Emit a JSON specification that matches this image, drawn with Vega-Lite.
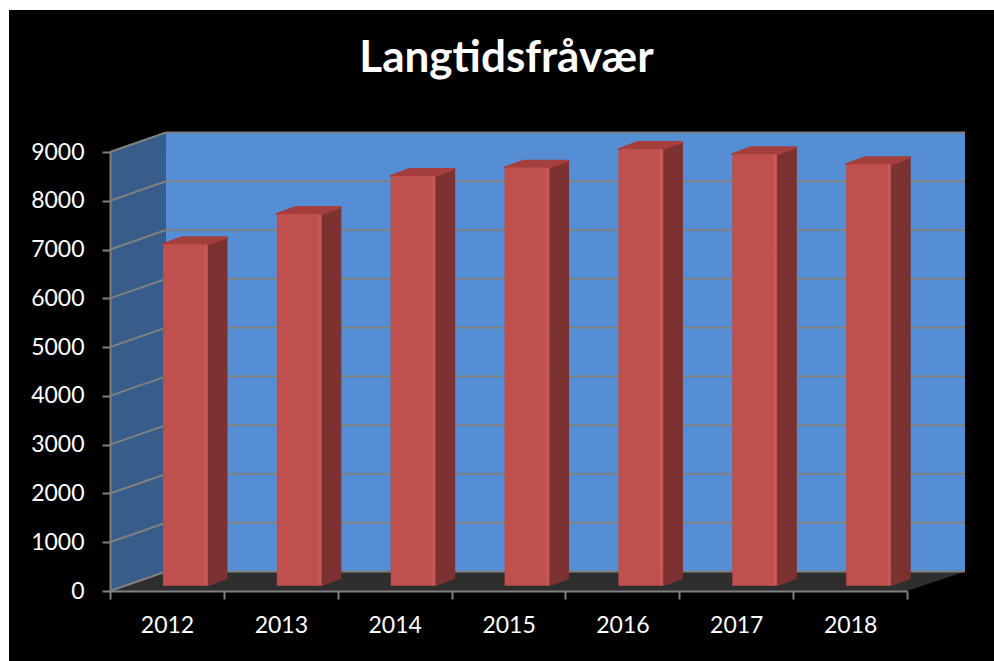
{
"$schema":"https://vega.github.io/schema/vega-lite/v6.json",
"width":797,"height":439,"autosize":"none",
"padding":{"left":110,"top":152,"right":87,"bottom":70},
"background":"white",
"title":{"text":"Langtidsfråvær","font":"Lato","fontWeight":"bold","fontSize":44,"color":"white","anchor":"middle","offset":-71,"zindex":1,"dx":-2},
"datasets":{
"bars":[{"year":2012,"value":7000},{"year":2013,"value":7620},{"year":2014,"value":8400},{"year":2015,"value":8570},{"year":2016,"value":8950},{"year":2017,"value":8845},{"year":2018,"value":8640}],
"ticks":[{"tick":0},{"tick":1000},{"tick":2000},{"tick":3000},{"tick":4000},{"tick":5000},{"tick":6000},{"tick":7000},{"tick":8000},{"tick":9000}]
},
"encoding":{
"x":{"field":"px","type":"quantitative","scale":{"domain":[0,7],"nice":false,"zero":false},"axis":{"title":null,"values":[0,1,2,3,4,5,6,7],"grid":false,"zindex":1,"domainColor":"#808080","domainWidth":2,"tickColor":"#808080","tickWidth":2,"tickSize":8,"labelExpr":"datum.value<7?''+(datum.value+2012):''","labelOffset":57,"labelFont":"Lato","labelFontSize":23,"labelColor":"white","labelPadding":15,"labelFlush":false,"labelOverlap":false,"labelBound":false}},
"y":{"field":"py","type":"quantitative","stack":null,"scale":{"domain":[0,9000],"nice":false,"zero":false},"axis":{"title":null,"values":[0,1000,2000,3000,4000,5000,6000,7000,8000,9000],"grid":false,"zindex":1,"domainColor":"#808080","domainWidth":2,"tickColor":"#808080","tickWidth":2,"tickSize":8,"format":"d","labelFont":"Lato","labelFontSize":23,"labelColor":"white","labelPadding":18,"labelFlush":false,"labelOverlap":false,"labelBound":false}}
},
"layer":[
{"data":{"values":[{"part":"background"}]},"transform":[{"calculate":"-0.887","as":"px"},{"calculate":"8","as":"px2"},{"calculate":"-1500","as":"py"},{"calculate":"11911","as":"py2"}],"mark":{"type":"rect","fill":"black"},"encoding":{"x2":{"field":"px2"},"y2":{"field":"py2"}}},
{"data":{"values":[{"part":"wall"}]},"transform":[{"calculate":"0.4918","as":"px"},{"calculate":"7.509","as":"px2"},{"calculate":"400","as":"py"},{"calculate":"9400","as":"py2"}],"mark":{"type":"rect","fill":"#558ed5"},"encoding":{"x2":{"field":"px2"},"y2":{"field":"py2"}}},
{"data":{"values":[{"part":"side"}]},"transform":[{"calculate":"[0,1]","as":"d"},{"flatten":["d"]},{"calculate":"datum.d*0.4918","as":"px"},{"calculate":"datum.d*400","as":"py"},{"calculate":"9000+datum.d*400","as":"py2"}],"mark":{"type":"area","fill":"#385d8a"},"encoding":{"y2":{"field":"py2"}}},
{"data":{"values":[{"part":"floor"}]},"transform":[{"calculate":"[0,1,2,3]","as":"d"},{"flatten":["d"]},{"calculate":"[0,0.4918,7,7.509][datum.d]","as":"px"},{"calculate":"[0,0,0,400][datum.d]","as":"py"},{"calculate":"[0,400,400,400][datum.d]","as":"py2"}],"mark":{"type":"area","fill":"#2e2e2e"},"encoding":{"y2":{"field":"py2"}}},
{"data":{"name":"ticks"},"transform":[{"calculate":"0.4918","as":"px"},{"calculate":"7.509","as":"px2"},{"calculate":"datum.tick+400","as":"py"},{"calculate":"datum.tick+400","as":"py2"}],"mark":{"type":"rule","stroke":"#808080","strokeWidth":2},"encoding":{"x2":{"field":"px2"},"y2":{"field":"py2"}}},
{"data":{"name":"ticks"},"transform":[{"calculate":"0","as":"px"},{"calculate":"0.4918","as":"px2"},{"calculate":"datum.tick","as":"py"},{"calculate":"datum.tick+400","as":"py2"}],"mark":{"type":"rule","stroke":"#808080","strokeWidth":2},"encoding":{"x2":{"field":"px2"},"y2":{"field":"py2"}}},
{"data":{"name":"bars"},"transform":[{"calculate":"datum.year-2012","as":"i"},{"calculate":"[0,1]","as":"d"},{"flatten":["d"]},{"calculate":"datum.i+0.8605+datum.d*0.167","as":"px"},{"calculate":"110+datum.d*143","as":"py"},{"calculate":"110+datum.value+datum.d*143","as":"py2"}],"mark":{"type":"area","fill":"#7c3230","stroke":"#7c3230","strokeWidth":1,"strokeJoin":"round"},"encoding":{"y2":{"field":"py2"},"detail":{"field":"year"}}},
{"data":{"name":"bars"},"transform":[{"calculate":"datum.year-2012","as":"i"},{"calculate":"[0,1,2,3]","as":"d"},{"flatten":["d"]},{"calculate":"datum.i+[0.4655,0.6325,0.8605,1.0275][datum.d]","as":"px"},{"calculate":"110+datum.value+[0,0,0,143][datum.d]","as":"py"},{"calculate":"110+datum.value+[0,143,143,143][datum.d]","as":"py2"}],"mark":{"type":"area","fill":"#a43f3d","stroke":"#a43f3d","strokeWidth":2,"strokeJoin":"round"},"encoding":{"y2":{"field":"py2"},"detail":{"field":"year"}}},
{"data":{"name":"bars"},"transform":[{"calculate":"datum.year-2012+0.4655","as":"px"},{"calculate":"datum.year-2012+0.8605","as":"px2"},{"calculate":"110","as":"py"},{"calculate":"110+datum.value","as":"py2"}],"mark":{"type":"rect","cornerRadiusTopLeft":3,"cornerRadiusTopRight":2,"fill":{"gradient":"linear","x1":0,"y1":0,"x2":1,"y2":0,"stops":[{"offset":0,"color":"#b94d4a"},{"offset":0.04,"color":"#c0504d"},{"offset":0.9,"color":"#c0504d"},{"offset":0.96,"color":"#cc5c58"},{"offset":1,"color":"#b34a47"}]}},"encoding":{"x2":{"field":"px2"},"y2":{"field":"py2"}}}
],
"config":{"view":{"stroke":null}}
}
